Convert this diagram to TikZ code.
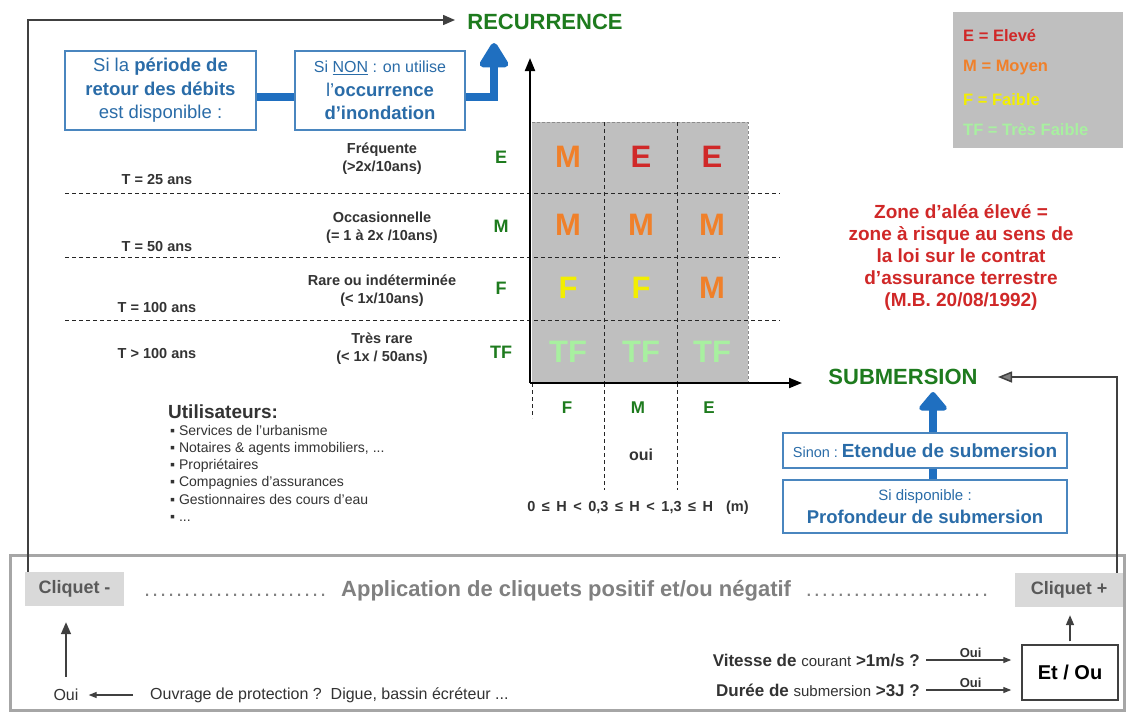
\documentclass[tikz,border=0pt]{standalone}
\usepackage{fontspec}
\setmainfont{Liberation Sans}
\usetikzlibrary{arrows.meta}
\definecolor{rgreen}{HTML}{1E7B1E}
\definecolor{rred}{HTML}{D02828}
\definecolor{rorange}{HTML}{F0802A}
\definecolor{ryellow}{HTML}{F2EE00}
\definecolor{rlgreen}{HTML}{A8F0A0}
\definecolor{rblue}{HTML}{1F6FC0}
\definecolor{bblue}{HTML}{2A6CA8}
\definecolor{bborder}{HTML}{4A86BF}
\definecolor{cellgray}{HTML}{BFBFBF}
\definecolor{txtgray}{HTML}{333333}
\definecolor{lightgray}{HTML}{D9D9D9}
\definecolor{framegray}{HTML}{A6A6A6}
\definecolor{linkgray}{HTML}{404040}
\definecolor{clqtext}{HTML}{595959}
\definecolor{apgray}{HTML}{808080}
\newcommand\fs[2]{\fontsize{#1}{#2}\selectfont}
\newcommand\dotrun[1]{\hbox to #1{\leaders\hbox to 8pt{\hss.\hss}\hfill}}
\newcommand\hs{\hspace{0.45em}}
\tikzset{
 gtitle/.style={font=\fs{22}{24}\bfseries, text=rgreen, inner sep=0pt},
 bluebox/.style={draw=bborder, line width=1.5pt, fill=white, align=center, inner sep=0pt, text=bblue},
 cell/.style={font=\fs{31}{32}\bfseries, inner sep=0pt},
 axlbl/.style={font=\fs{17}{18}\bfseries, text=rgreen, inner sep=0pt},
 rowlbl/.style={font=\fs{18}{19}\bfseries, text=rgreen, inner sep=0pt},
 tlbl/.style={font=\fs{14.5}{16}\bfseries, text=txtgray, inner sep=0pt},
 occ/.style={font=\fs{14.5}{18}\bfseries, text=txtgray, align=center, inner sep=0pt},
 leg/.style={font=\fs{16.5}{18}\bfseries, anchor=west, inner sep=0pt},
 gridline/.style={draw=black!85, line width=1pt, dash pattern=on 4pt off 3pt},
 bluethick/.style={draw=rblue, line width=8pt},
 bluehead/.style={-{Triangle[length=28pt,width=32pt,round]}},
 axisline/.style={draw=black, line width=2pt, -{Triangle[length=13pt,width=10pt]}},
 link/.style={draw=linkgray, line width=1.5pt, -{Triangle[length=12pt,width=10pt]}},
 conn/.style={draw=linkgray, line width=1.3pt, -{Triangle[length=8pt,width=6pt]}},
 clq/.style={fill=lightgray, font=\fs{18}{19}\bfseries, text=clqtext, minimum height=34pt, inner sep=0pt},
 btxt/.style={text=txtgray, inner sep=0pt},
}
\begin{document}
\begin{tikzpicture}[x=1pt,y=-1pt]
\useasboundingbox (0,0) rectangle (1134,713);
\fill[white] (0,0) rectangle (1134,713);

% ---------- bottom frame ----------
\draw[framegray, line width=3pt] (10,555) rectangle (1124,710);

% ---------- risk matrix ----------
\fill[cellgray] (532,122) rectangle (748,383);
\draw[draw=black!45, line width=1pt, dash pattern=on 3pt off 2pt] (532,122) -- (748,122) -- (748,383);
\foreach \x in {604,677} \draw[gridline] (\x,122) -- (\x,383);
\foreach \y in {193,257,320} \draw[gridline] (65,\y) -- (780,\y);
\draw[gridline] (532,383) -- (532,418);
\draw[gridline] (604,383) -- (604,490);
\draw[gridline] (677,383) -- (677,490);

\coordinate (O) at (530,383);
\coordinate (ytop) at (530,58);
\coordinate (xend) at (802,383);
\draw[axisline] (O) -- (ytop);
\draw[axisline] (O) -- (xend);

\node[cell, text=rorange] (c11) at (568,157) {M};
\node[cell, text=rred]    (c12) at (641,157) {E};
\node[cell, text=rred]    (c13) at (712,157) {E};
\node[cell, text=rorange] (c21) at (568,225) {M};
\node[cell, text=rorange] (c22) at (641,225) {M};
\node[cell, text=rorange] (c23) at (712,225) {M};
\node[cell, text=ryellow] (c31) at (568,288) {F};
\node[cell, text=ryellow] (c32) at (641,288) {F};
\node[cell, text=rorange] (c33) at (712,288) {M};
\node[cell, text=rlgreen] (c41) at (568,352) {TF};
\node[cell, text=rlgreen] (c42) at (641,352) {TF};
\node[cell, text=rlgreen] (c43) at (712,352) {TF};

% row labels
\node[tlbl] (t1) at (157,180) {T = 25 ans};
\node[tlbl] (t2) at (157,247) {T = 50 ans};
\node[tlbl] (t3) at (157,307) {T = 100 ans};
\node[tlbl] (t4) at (157,353) {T > 100 ans};
\node[occ] (o1) at (382,158.5) {Fréquente\\(>2x/10ans)};
\node[occ] (o2) at (382,227.5) {Occasionnelle\\(= 1 à 2x /10ans)};
\node[occ] (o3) at (382,291) {Rare ou indéterminée\\(< 1x/10ans)};
\node[occ] (o4) at (382,348.5) {Très rare\\(< 1x / 50ans)};
\node[rowlbl] (rE) at (501,157) {E};
\node[rowlbl] (rM) at (501,226) {M};
\node[rowlbl] (rF) at (501,288) {F};
\node[rowlbl] (rTF) at (501,352) {TF};

% column labels
\node[axlbl] (cF) at (567,408) {F};
\node[axlbl] (cM) at (638,408) {M};
\node[axlbl] (cE) at (709,408) {E};
\node[btxt, font=\fs{16}{18}\bfseries] (oui0) at (641,455) {oui};
\node[btxt, font=\fs{14.5}{16}\bfseries] (hform) at (638,508) {0\hs≤\hs H\hs<\hs 0,3\hs≤\hs H\hs<\hs 1,3\hs≤\hs H\hs\hs(m)};

% ---------- titles ----------
\node[gtitle] (recur) at (545,22) {RECURRENCE};
\node[gtitle] (subm) at (903,377) {SUBMERSION};

% ---------- blue boxes (top) ----------
\node[bluebox, font=\fs{18.5}{23.5}, minimum width=191pt, minimum height=79pt] (b1) at (160.5,90.5)
  {Si la \textbf{période de}\\\textbf{retour des débits}\\est disponible :};
\node[bluebox, font=\fs{18.5}{23.5}, minimum width=170pt, minimum height=79pt] (b2) at (380,90.5)
  {{\fs{16}{23.5}Si \underline{NON} : on utilise}\\l'\textbf{occurrence}\\\textbf{d'inondation}};
\draw[bluethick] ([yshift=-6.5pt]b1.east) -- ([yshift=-6.5pt]b2.west);
\coordinate (bluetip) at (494,43);
\draw[bluethick, bluehead] ([yshift=-6.5pt]b2.east) -| (bluetip);

% ---------- blue boxes (submersion) ----------
\node[bluebox, minimum width=284pt, minimum height=35pt] (sb1) at (925,450.5)
  {{\fs{14.5}{16}Sinon :} {\fs{19}{20}\bfseries Etendue de submersion}};
\node[bluebox, minimum width=284pt, minimum height=53pt, font=\fs{18.5}{23}] (sb2) at (925,506.5)
  {{\fs{15}{23}Si disponible :}\\\textbf{Profondeur de submersion}};
\draw[bluethick] ([xshift=8pt]sb2.north) -- ([xshift=8pt]sb1.south);
\coordinate (subtip) at (933,392);
\draw[bluethick, -{Triangle[length=20pt,width=32pt,round]}] ([xshift=8pt]sb1.north) -- (subtip);

% ---------- legend ----------
\fill[cellgray] (953,12) rectangle (1123,148);
\node[leg, text=rred] (lE) at (963,36) {E = Elevé};
\node[leg, text=rorange] (lM) at (963,68) {M = Moyen};
\node[leg, text=ryellow] (lF) at (963,100) {F = Faible};
\node[leg, text=rlgreen] (lTF) at (963,130) {TF = Très Faible};

% ---------- red note ----------
\node[font=\fs{19}{22}\bfseries, text=rred, align=center, inner sep=0pt] (zone) at (961,257)
  {Zone d'aléa élevé =\\zone à risque au sens de\\la loi sur le contrat\\d'assurance terrestre\\(M.B. 20/08/1992)};

% ---------- users ----------
\node[btxt, anchor=west, font=\fs{19}{20}\bfseries] (ut) at (168,412) {Utilisateurs:};
\node[btxt, anchor=north west, align=left, font=\fs{14}{17.2}] (utl) at (170,425)
  {▪ Services de l'urbanisme\\▪ Notaires \& agents immobiliers, ...\\▪ Propriétaires\\▪ Compagnies d'assurances\\▪ Gestionnaires des cours d'eau\\▪ ...};

% ---------- bottom band ----------
\node[clq, minimum width=99pt] (cm) at (74.5,589) {Cliquet -};
\node[clq, minimum width=108pt] (cp) at (1069,590) {Cliquet +};
\node[anchor=west, font=\fs{22}{24}\bfseries, text=apgray, inner sep=0pt] (app) at (143,591)
  {{\mdseries\dotrun{190pt}}\hspace{8pt}Application de cliquets positif et/ou négatif\hspace{14pt}{\mdseries\dotrun{185pt}}};

\node[btxt, font=\fs{16}{18}] (oui1) at (66,695) {Oui};
\node[btxt, anchor=west, font=\fs{16}{18}] (ouv) at (150,695) {Ouvrage de protection ?\ \ Digue, bassin écréteur ...};
\draw[conn, shorten <=17pt, shorten >=10pt] (ouv.west) -- (oui1.east);
\draw[link, shorten <=12pt, shorten >=16pt] (oui1.north) -- (oui1.north |- cm.south);

\node[btxt, anchor=east, font=\fs{17}{18}\bfseries] (vit) at (920,660) {Vitesse de {\mdseries\fs{15}{18}courant} >1m/s ?};
\node[btxt, anchor=east, font=\fs{17}{18}\bfseries] (dur) at (920,690) {Durée de {\mdseries\fs{15}{18}submersion} >3J ?};
\node[draw=linkgray, line width=1.5pt, minimum width=96pt, minimum height=55pt, font=\fs{20}{22}\bfseries, inner sep=0pt] (eo) at (1070,672.5) {Et / Ou};
\draw[conn, shorten <=6pt, shorten >=10pt] (vit.east) -- (vit.east -| eo.west)
  node[midway, above=2pt, btxt, font=\fs{13}{14}\bfseries] (v1) {Oui};
\draw[conn, shorten <=6pt, shorten >=10pt] (dur.east) -- (dur.east -| eo.west)
  node[midway, above=2pt, btxt, font=\fs{13}{14}\bfseries] (v2) {Oui};
\draw[link, -{Triangle[length=10pt,width=8pt]}, shorten <=3pt, shorten >=8pt] (eo.north) -- (eo.north |- cp.south);

% ---------- loop connectors ----------
\coordinate (recin) at (455,20);
\draw[link] ([xshift=3pt]cm.north west) |- (recin);
\coordinate (subin) at (998,377);
\draw[link, -{Triangle[length=14pt,width=11pt,fill=apgray]}] ([xshift=-6pt]cp.north east) |- (subin);
\end{tikzpicture}
\end{document}
